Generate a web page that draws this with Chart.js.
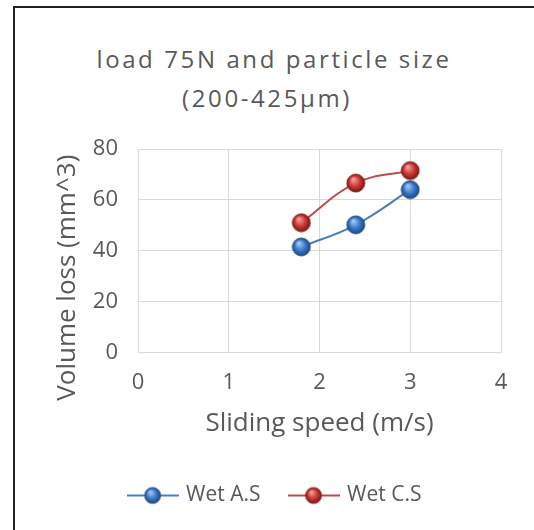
<!DOCTYPE html>
<html>
<head>
    <style>
        body { margin: 0; background: #fff; }
        .frame {
            position: absolute; left: 13px; top: 6px; width: 540px; height: 540px;
            border-left: 2px solid #222; border-top: 2px solid #222;
        }
        .title {
            position: absolute; left: 0; width: 548px; text-align: center;
            font-family: 'Open Sans', sans-serif; font-size: 24px; color: #595959;
            letter-spacing: 2.6px;
        }
        #chart_wrap { position: absolute; left: 0; top: 0; width: 534px; height: 530px; }
    </style>
    <script src="https://cdn.jsdelivr.net/npm/chart.js"></script>
</head>
<body>
    <div class="frame"></div>
    <div class="title" style="top: 42px;">load 75N and particle size</div>
    <div class="title" style="top: 81px; width: 534px;">(200-425µm)</div>
    <div id="chart_wrap"><canvas id="chart" width="534" height="530"></canvas></div>

    <script>
        const speeds = [1.8, 2.4, 3];
        const wetAS = [41.5, 50.2, 64];
        const wetCS = [51, 66.6, 71.5];
        const seriesNames = ['Wet A.S', 'Wet C.S'];
        const xTicks = [0, 1, 2, 3, 4];
        const yTicks = [0, 20, 40, 60, 80];

        const textColor = '#595959';
        const font = "'Open Sans', sans-serif";

        // shaded ball marker like the office chart
        function ball(light, base, dark, r) {
            const c = document.createElement('canvas');
            c.width = r * 2 + 2; c.height = r * 2 + 2;
            const ctx = c.getContext('2d');
            const cx = r + 1, cy = r + 1;
            const g = ctx.createRadialGradient(cx - r * 0.3, cy - r * 0.45, r * 0.05, cx, cy, r);
            g.addColorStop(0, light);
            g.addColorStop(0.55, base);
            g.addColorStop(1, dark);
            ctx.fillStyle = g;
            ctx.beginPath(); ctx.arc(cx, cy, r, 0, Math.PI * 2); ctx.fill();
            ctx.strokeStyle = dark; ctx.lineWidth = 0.8; ctx.stroke();
            return c;
        }

        function legendIcon(lineColor, marker) {
            const c = document.createElement('canvas');
            c.width = 52; c.height = 20;
            const ctx = c.getContext('2d');
            ctx.strokeStyle = lineColor; ctx.lineWidth = 2;
            ctx.beginPath(); ctx.moveTo(0, 10); ctx.lineTo(52, 10); ctx.stroke();
            ctx.drawImage(marker, 26 - marker.width / 2, 10 - marker.height / 2);
            return c;
        }

        const blueBall = ball('#a8ccf5', '#3d7dcc', '#1c477f', 9);
        const redBall = ball('#f3a7a5', '#d03b38', '#7a1512', 9);
        const blueLine = '#4a7ebb';
        const redLine = '#be4b48';
        const icons = [legendIcon(blueLine, ball('#a8ccf5', '#3d7dcc', '#1c477f', 8)),
                       legendIcon(redLine, ball('#f3a7a5', '#d03b38', '#7a1512', 8))];

        const toPoints = ys => speeds.map((x, i) => ({ x: x, y: ys[i] }));

        new Chart(document.getElementById('chart'), {
            type: 'scatter',
            data: {
                datasets: [{
                    label: seriesNames[0],
                    data: toPoints(wetAS),
                    showLine: true,
                    borderColor: blueLine,
                    borderWidth: 2,
                    tension: 0.4,
                    pointStyle: blueBall,
                    pointRadius: 9
                }, {
                    label: seriesNames[1],
                    data: toPoints(wetCS),
                    showLine: true,
                    borderColor: redLine,
                    borderWidth: 2,
                    tension: 0.4,
                    pointStyle: redBall,
                    pointRadius: 9
                }]
            },
            options: {
                responsive: false,
                animation: false,
                layout: { padding: { top: 149, left: 50, right: 33, bottom: 14 } },
                plugins: {
                    tooltip: { enabled: false },
                    legend: {
                        position: 'bottom',
                        labels: {
                            usePointStyle: true,
                            pointStyleWidth: 46,
                            padding: 30,
                            color: textColor,
                            font: { family: font, size: 21 },
                            generateLabels: chart => chart.data.datasets.map((ds, i) => ({
                                text: ds.label,
                                pointStyle: icons[i],
                                fontColor: textColor,
                                datasetIndex: i,
                                lineWidth: 0
                            }))
                        }
                    }
                },
                scales: {
                    x: {
                        type: 'linear',
                        min: 0, max: 4,
                        afterBuildTicks: s => { s.ticks = xTicks.map(v => ({ value: v })); },
                        grid: { color: '#d9d9d9', drawTicks: false },
                        border: { color: '#d9d9d9' },
                        ticks: { padding: 17, color: textColor, font: { family: font, size: 22 } },
                        title: {
                            display: true, text: 'Sliding speed (m/s)', color: textColor,
                            font: { family: font, size: 26 }, padding: { top: -5, bottom: 16 }
                        }
                    },
                    y: {
                        min: 0, max: 80,
                        afterBuildTicks: s => { s.ticks = yTicks.map(v => ({ value: v })); },
                        afterFit: s => { s.width = 88; },
                        grid: { color: '#d9d9d9', drawTicks: false },
                        border: { color: '#d9d9d9' },
                        ticks: { padding: 20, color: textColor, font: { family: font, size: 22 } },
                        title: {
                            display: true, text: 'Volume loss (mm^3)        ', color: textColor,
                            font: { family: font, size: 26 }, padding: { top: 2, bottom: 0 }
                        }
                    }
                }
            }
        });
    </script>
</body>
</html>
